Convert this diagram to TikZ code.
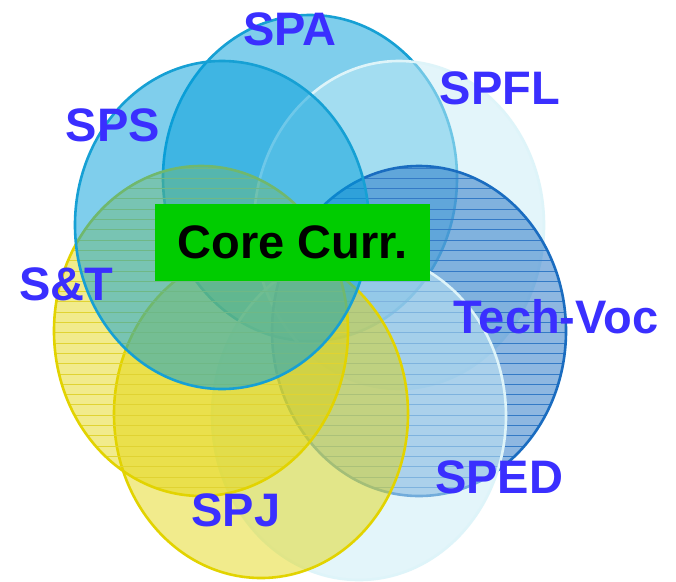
\documentclass[tikz,border=0pt]{standalone}
\usepackage{fontspec}
\setmainfont{Liberation Sans}
\definecolor{blueA}{RGB}{0,158,219}
\definecolor{blueAline}{RGB}{22,160,212}
\definecolor{paleC}{RGB}{200,236,246}
\definecolor{paleCline}{RGB}{222,244,249}
\definecolor{techfill}{RGB}{30,112,196}
\definecolor{techline}{RGB}{52,122,198}
\definecolor{techborder}{RGB}{26,108,192}
\definecolor{yelfill}{RGB}{226,212,0}
\definecolor{yelline}{RGB}{224,211,50}
\definecolor{yelborder}{RGB}{226,211,0}
\definecolor{labblue}{RGB}{58,47,255}
\definecolor{coregreen}{RGB}{0,204,0}
\tikzset{
  lab/.style={text=labblue, font=\fontsize{47pt}{50pt}\selectfont\bfseries, anchor=base, inner sep=0pt},
  bluefill/.style={fill=blueA, fill opacity=0.5},
  blueedge/.style={draw=blueAline, line width=2.6pt},
  palefill/.style={fill=paleC, fill opacity=0.5},
  paleedge/.style={draw=paleCline, line width=2.6pt},
  techfillst/.style={fill=techfill, fill opacity=0.5},
  techhatch/.style={draw=techline, line width=0.9pt},
  techedge/.style={draw=techborder, line width=2.6pt},
  yfill/.style={fill=yelfill, fill opacity=0.45},
  yhatch/.style={draw=yelline, line width=0.9pt},
  yedge/.style={draw=yelborder, line width=2.6pt},
  corebox/.style={fill=coregreen, minimum width=275pt, minimum height=77pt, inner sep=0pt,
     font=\fontsize{47pt}{50pt}\selectfont\bfseries, text=black}
}
\begin{document}
\begin{tikzpicture}[x=1pt,y=-1pt]
\useasboundingbox (0,0) rectangle (676,581);
\fill[white] (0,0) rectangle (676,581);
% SPA
\path[bluefill] (310,178) ellipse [x radius=147pt, y radius=163pt];
\path[blueedge] (310,178) ellipse [x radius=147pt, y radius=163pt];
% SPFL
\path[palefill] (399,225) ellipse [x radius=145pt, y radius=164pt];
\path[paleedge] (399,225) ellipse [x radius=145pt, y radius=164pt];
% Tech-Voc
\path[techfillst] (419,331) ellipse [x radius=147pt, y radius=165pt];
\begin{scope}
  \clip (419,331) ellipse [x radius=147pt, y radius=165pt];
  \foreach \k in {0,...,32} {
    \path[techhatch] (270,{168+10.3*\k}) -- (570,{168+10.3*\k});
  }
\end{scope}
\path[techedge] (419,331) ellipse [x radius=147pt, y radius=165pt];
% SPED
\path[palefill] (359,416) ellipse [x radius=147pt, y radius=164pt];
\path[paleedge] (359,416) ellipse [x radius=147pt, y radius=164pt];
% SPJ
\path[yfill] (261,414) ellipse [x radius=147pt, y radius=164pt];
\path[yedge] (261,414) ellipse [x radius=147pt, y radius=164pt];
% S&T
\path[yfill] (201,331) ellipse [x radius=147pt, y radius=165pt];
\begin{scope}
  \clip (201,331) ellipse [x radius=147pt, y radius=165pt];
  \foreach \k in {0,...,32} {
    \path[yhatch] (50,{168+10.3*\k}) -- (352,{168+10.3*\k});
  }
\end{scope}
\path[yedge] (201,331) ellipse [x radius=147pt, y radius=165pt];
% SPS
\path[bluefill] (222,225) ellipse [x radius=147pt, y radius=164pt];
\path[blueedge] (222,225) ellipse [x radius=147pt, y radius=164pt];
% core box
\node[corebox] (core) at (292.5,242.5) {Core Curr.};
% labels
\node[lab] (spa) at (290,45) {SPA};
\node[lab] (spfl) at (500,104) {SPFL};
\node[lab] (sps) at (113,141) {SPS};
\node[lab] (st) at (66,300) {S\&T};
\node[lab] (tech) at (556,333) {Tech-Voc};
\node[lab] (sped) at (499,493) {SPED};
\node[lab] (spj) at (236,526) {SPJ};
\end{tikzpicture}
\end{document}
